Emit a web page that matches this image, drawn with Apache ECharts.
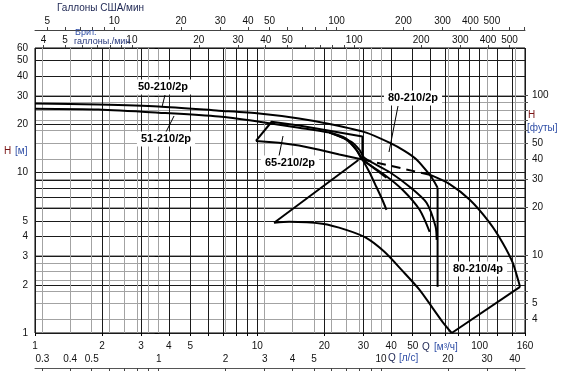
<!DOCTYPE html>
<html><head><meta charset="utf-8">
<script src="https://cdn.jsdelivr.net/npm/echarts@6/dist/echarts.min.js"></script>
<style>html,body{margin:0;padding:0;background:#fff}#c{width:563px;height:378px}</style>
</head><body><div id="c"></div>
<script>
// ---- tick labels and grid values ----
const m3hLabels = [1,2,3,4,5,10,20,30,40,50,100,160];
const m3hGrid   = [1,2,3,4,5,6,7,8,9,10,20,30,40,50,60,70,80,90,100,120,140,160];
const lsLabels  = [0.3,0.4,0.5,1,2,3,4,5,10,20,30,40];
const lsGrid    = [0.3,0.4,0.5,0.6,0.7,0.8,0.9,1,2,3,4,5,6,7,8,9,10,20,30,40];
const usLabels  = [5,10,20,30,40,50,100,200,300,400,500];
const usGrid    = [5,6,7,8,9,10,20,30,40,50,60,70,80,90,100,200,300,400,500,600,700];
const impLabels = [4,5,10,20,30,40,50,100,200,300,400,500];
const impGrid   = [4,5,6,7,8,9,10,20,30,40,50,60,70,80,90,100,200,300,400,500];
const mLabels   = [1,2,3,4,5,10,20,30,40,50,60];
const mGrid     = [1,2,3,4,5,6,7,8,9,10,20,30,40,50,60];
const ftLabels  = [4,5,10,20,30,40,50,100];
const ftGrid    = [4,5,6,7,8,9,10,20,30,40,50,60,70,80,90,100];

// ---- curves: [Q m3/h, H m] ----
const curve50 = [[1.00,27.0],[1.93,26.6],[3.59,25.9],[6.71,24.4],[10.2,23.4],[15.4,21.8],[21.7,20.0],[30.9,17.8],[39.3,15.4],[45.9,13.7],[52.0,12.1],[59.6,9.72],[62.1,8.91],[64.7,8.06]];
const limit80 = [[64.7,8.06],[64.7,1.94]];
const curve51 = [[1.00,25.1],[1.93,24.8],[3.59,23.7],[6.71,22.4],[10.2,20.8],[15.4,19.1],[21.1,17.8],[25.1,16.3],[27.9,13.9],[29.7,12.1],[31.9,10.1],[34.3,8.17],[36.5,6.78],[38.1,5.87]];
const curve80a = [[21.1,17.8],[25.1,16.1],[27.9,13.9],[29.7,12.1],[37.3,9.72],[45.0,7.83],[53.7,5.87],[59.6,4.28]];
const curve80b = [[21.1,17.8],[26.5,15.6],[28.8,13.9],[30.3,12.4],[39.3,10.1],[48.4,8.17],[57.7,6.49],[63.4,4.60],[64.1,3.81]];
const curve80c = [[29.7,12.1],[38.1,9.31]];
const tile65 = [[9.86,15.8],[11.6,20.8],[15.4,19.7],[21.1,18.3],[29.7,16.8],[29.7,12.1],[23.4,13.0],[19.0,13.9],[15.4,14.8],[12.5,15.4],[9.86,15.8]];
const left4p = [[11.9,4.87],[28.5,12.0]];
const dash4p = [[29.7,12.1],[59.6,9.72]];
const outer4p = [[59.6,9.72],[73.3,8.5],[90.3,6.78],[111,4.87],[127,3.65],[141,2.74],[149,2.14],[152,1.94]];
const close4p = [[152,1.94],[74.9,1.0]];
const lower4p = [[74.9,1.0],[68.2,1.17],[61.5,1.43],[53.7,1.86],[45.0,2.44],[37.3,3.21],[30.9,3.92],[25.1,4.40],[19.6,4.80],[13.9,4.94],[11.9,4.87]];

// ---- unit factors ----
const QMAX = 160, HMAX = 60;
const LS = 1/3.6, US = 4.40287, IMP = 3.66615, FT = 3.28084;

const L = v => Math.log10(v);
const fmt = v => String(parseFloat(Math.pow(10, v).toPrecision(6)));
const FONT = '"Liberation Sans", Arial, sans-serif';
const BLACK = '#1a1a1a', GRAY = '#a3a3a3';
const lab = (extra) => Object.assign({fontFamily: FONT, fontSize: 10, color: '#111', formatter: fmt}, extra);

const chart = echarts.init(document.getElementById('c'));

function ln(name, data, smooth, type) {
  return {type:'line', name, data, xAxisIndex:0, yAxisIndex:0, showSymbol:false, symbol:'none',
    smooth: smooth ? 0.25 : false, silent:true, z:5,
    lineStyle:{color:'#000', width:2, type: type || 'solid', dashOffset:0}};
}

const tx = (text, x, y, font, fill, align, extra) => Object.assign({type:'text', x, y, z:100, silent:true,
  style:{text, font, fill, align: align || 'left', verticalAlign:'middle'}}, extra || {});
const boxLabel = (text, x, y) => ({type:'text', x, y, z:120, silent:true,
  style:{text, font:'bold 11px ' + FONT, fill:'#000', align:'center', verticalAlign:'middle', backgroundColor:'#fff', padding:[2,4]}});
const leader = (x1,y1,x2,y2) => ({type:'line', z:110, silent:true, shape:{x1,y1,x2,y2}, style:{stroke:'#000', lineWidth:1}});

chart.setOption({
  animation:false,
  backgroundColor:'#fff',
  grid:{left:35, right:38, top:48, bottom:45, show:true, borderColor:'#000', borderWidth:1, backgroundColor:'transparent'},
  xAxis:[
    {type:'log', logBase:10, min:1, max:QMAX, show:false},
    {type:'value', min:0, max:L(QMAX), position:'bottom', offset:0,
      axisLine:{show:false},
      axisTick:{show:true, length:3, customValues:m3hGrid.map(L), lineStyle:{color:'#000'}},
      axisLabel:lab({customValues:m3hLabels.map(L), margin:8}),
      splitLine:{show:true, lineStyle:{color:BLACK, width:1}}},
    {type:'value', min:L(LS), max:L(QMAX*LS), position:'bottom', offset:35,
      axisLine:{show:true, lineStyle:{color:'#555', width:1}},
      axisTick:{show:true, length:3, customValues:lsGrid.map(L), lineStyle:{color:'#444'}},
      axisLabel:lab({customValues:lsLabels.map(L), inside:true, margin:4}),
      splitLine:{show:true, lineStyle:{color:GRAY, width:1}}},
    {type:'value', min:L(US), max:L(QMAX*US), position:'top', offset:18,
      axisLine:{show:true, lineStyle:{color:'#444', width:1}},
      axisTick:{show:true, length:3, customValues:usGrid.map(L), lineStyle:{color:'#444'}},
      axisLabel:lab({customValues:usLabels.map(L), margin:4}),
      splitLine:{show:false}},
    {type:'value', min:L(IMP), max:L(QMAX*IMP), position:'top', offset:0,
      axisLine:{show:false},
      axisTick:{show:true, length:3, customValues:impGrid.map(L), lineStyle:{color:'#444'}},
      axisLabel:lab({customValues:impLabels.map(L), margin:3}),
      splitLine:{show:false}}
  ],
  yAxis:[
    {type:'log', logBase:10, min:1, max:HMAX, show:false},
    {type:'value', min:0, max:L(HMAX), position:'left',
      axisLine:{show:false},
      axisTick:{show:true, length:4, customValues:mGrid.map(L), lineStyle:{color:'#000'}},
      axisLabel:lab({customValues:mLabels.map(L), margin:7}),
      splitLine:{show:true, lineStyle:{color:BLACK, width:1}}},
    {type:'value', min:L(FT), max:L(HMAX*FT), position:'right',
      axisLine:{show:false},
      axisTick:{show:true, length:3, customValues:ftGrid.map(L), lineStyle:{color:'#555'}},
      axisLabel:lab({customValues:ftLabels.map(L), margin:7}),
      splitLine:{show:true, lineStyle:{color:GRAY, width:1}}}
  ],
  series:[
    ln('50-210/2p', curve50, true),
    ln('80-210/2p', limit80, false),
    ln('51-210/2p', curve51, true),
    ln('80-210/2p', curve80a, true),
    ln('80-210/2p', curve80b, true),
    ln('80-210/2p', curve80c, false),
    ln('65-210/2p', tile65, false),
    ln('80-210/4p', left4p, false),
    ln('80-210/4p', dash4p, false, [9,6]),
    ln('80-210/4p', outer4p, true),
    ln('80-210/4p', close4p, false),
    ln('80-210/4p', lower4p, true)
  ],
  graphic:[
    tx('Галлоны США/мин', 57, 8, '10px ' + FONT, '#1c2552'),
    tx('Брит.', 75, 33, '9px ' + FONT, '#2f4ea6'),
    tx('галлоны./мин', 74, 42, '9px ' + FONT, '#24357a'),
    tx('H', 4, 151, '10px ' + FONT, '#7a1515'),
    tx('[м]', 15, 151, '10px ' + FONT, '#2f4ea6'),
    tx('H', 528, 115, '10px ' + FONT, '#7a1515'),
    tx('[футы]', 527, 128, '10px ' + FONT, '#2f4ea6'),
    tx('Q', 422, 347, '10px ' + FONT, '#1c2552'),
    tx('[м³/ч]', 434, 347, '10px ' + FONT, '#2f4ea6'),
    tx('Q', 388, 358, '10px ' + FONT, '#1c2552'),
    tx('[л/с]', 399, 358, '10px ' + FONT, '#2f4ea6'),
    leader(165, 95, 162, 107),
    leader(166, 132, 174, 116),
    leader(279, 156, 283, 136),
    leader(398, 106, 389, 152),
    boxLabel('50-210/2p', 163, 87),
    boxLabel('51-210/2p', 166, 139),
    boxLabel('65-210/2p', 290, 163),
    boxLabel('80-210/2p', 413, 98),
    boxLabel('80-210/4p', 478, 269)
  ]
});
</script>
</body></html>
